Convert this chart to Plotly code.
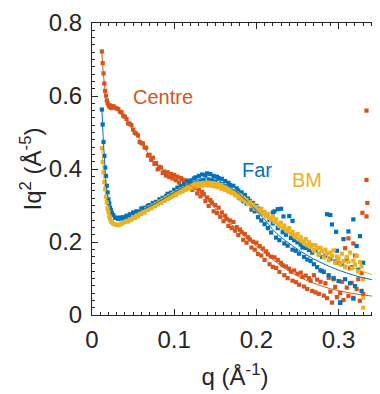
import plotly.graph_objects as go

# ---------------- data ----------------
q = [0.012, 0.013, 0.014, 0.015, 0.016, 0.017, 0.018, 0.019, 0.020, 0.021,
     0.022, 0.023, 0.024, 0.026, 0.028, 0.030, 0.032, 0.034, 0.036, 0.038,
     0.040,
     0.042, 0.044, 0.046, 0.048, 0.050, 0.052, 0.054, 0.056, 0.058, 0.060,
     0.062, 0.064, 0.066, 0.068, 0.070, 0.072, 0.074, 0.076, 0.078, 0.080,
     0.082, 0.084, 0.086, 0.088, 0.090, 0.092, 0.094, 0.096, 0.098, 0.100,
     0.102, 0.104, 0.106, 0.108, 0.110, 0.112, 0.114, 0.116, 0.118, 0.120,
     0.122, 0.124, 0.126, 0.128, 0.130, 0.132, 0.134, 0.136, 0.138, 0.140,
     0.142, 0.144, 0.146, 0.148, 0.150, 0.152, 0.154, 0.156, 0.158, 0.160,
     0.162, 0.164, 0.166, 0.168, 0.170, 0.172, 0.174, 0.176, 0.178, 0.180,
     0.182, 0.184, 0.186, 0.188, 0.190, 0.192, 0.194, 0.196, 0.198, 0.200,
     0.202, 0.204, 0.206, 0.208, 0.210, 0.212, 0.214, 0.216, 0.218, 0.220,
     0.222, 0.224, 0.226, 0.228, 0.230, 0.232, 0.234, 0.236, 0.238, 0.240,
     0.242, 0.244, 0.246, 0.248, 0.250, 0.252, 0.254, 0.256, 0.258, 0.260,
     0.262, 0.264, 0.266, 0.268, 0.270, 0.272, 0.274, 0.276, 0.278, 0.280,
     0.282, 0.284, 0.286, 0.288, 0.290, 0.292, 0.294, 0.296, 0.298, 0.300,
     0.302, 0.304, 0.306, 0.308, 0.310, 0.312, 0.314, 0.316, 0.318, 0.320,
     0.322, 0.324, 0.326, 0.328, 0.330]

centre = [0.722, 0.690, 0.662, 0.634, 0.614, 0.601, 0.588, 0.581, 0.575, 0.571,
          0.574, 0.567, 0.570, 0.572, 0.568, 0.566, 0.564, 0.557, 0.555, 0.546,
          0.543,
          0.537, 0.525, 0.524, 0.520, 0.508, 0.499, 0.497, 0.492, 0.474, 0.471,
          0.470, 0.459, 0.458, 0.437, 0.439, 0.425, 0.431, 0.414, 0.416, 0.399,
          0.406, 0.404, 0.389, 0.393, 0.382, 0.391, 0.378, 0.386, 0.374, 0.384,
          0.369, 0.379, 0.363, 0.375, 0.371, 0.357, 0.369, 0.352, 0.364, 0.361,
          0.343, 0.355, 0.348, 0.333, 0.344, 0.325, 0.337, 0.331, 0.312, 0.322,
          0.299, 0.315, 0.308, 0.284, 0.301, 0.279, 0.294, 0.269, 0.281, 0.257,
          0.272, 0.263, 0.244, 0.259, 0.238, 0.255, 0.231, 0.241, 0.219, 0.234,
          0.227, 0.206, 0.222, 0.198, 0.213, 0.207, 0.185, 0.201, 0.179, 0.198,
          0.167, 0.189, 0.163, 0.182, 0.151, 0.174, 0.166, 0.139, 0.160, 0.132,
          0.158, 0.129, 0.151, 0.118, 0.143, 0.136, 0.109, 0.133, 0.101, 0.127,
          0.119, 0.094, 0.122, 0.090, 0.113, 0.083, 0.116, 0.104, 0.078, 0.108,
          0.071, 0.101, 0.094, 0.066, 0.109, 0.062, 0.097, 0.058, 0.091, 0.121,
          0.053, 0.087, 0.046, 0.102, 0.064, 0.034, 0.098, 0.077, 0.049, 0.143,
          0.060, 0.091, 0.041, 0.183, 0.075, 0.052, 0.128, 0.088, 0.047, 0.163,
          0.071, 0.098, 0.039, 0.115, 0.058]

far = [0.563, 0.522, 0.474, 0.436, 0.404, 0.381, 0.354, 0.336, 0.317, 0.306,
       0.294, 0.287, 0.280, 0.274, 0.267, 0.266, 0.263, 0.267, 0.264, 0.268,
       0.266,
       0.272, 0.268, 0.276, 0.274, 0.281, 0.275, 0.284, 0.279, 0.283, 0.292,
       0.286, 0.294, 0.288, 0.299, 0.301, 0.295, 0.307, 0.299, 0.310, 0.305,
       0.317, 0.311, 0.321, 0.314, 0.326, 0.332, 0.322, 0.335, 0.328, 0.343,
       0.331, 0.349, 0.338, 0.353, 0.342, 0.360, 0.349, 0.366, 0.352, 0.369,
       0.358, 0.374, 0.377, 0.362, 0.381, 0.366, 0.385, 0.369, 0.383, 0.388,
       0.370, 0.386, 0.367, 0.381, 0.364, 0.379, 0.375, 0.358, 0.373, 0.353,
       0.367, 0.349, 0.362, 0.356, 0.339, 0.354, 0.333, 0.347, 0.341, 0.320,
       0.336, 0.312, 0.329, 0.306, 0.319, 0.312, 0.289, 0.307, 0.284, 0.299,
       0.268, 0.291, 0.259, 0.281, 0.249, 0.274, 0.238, 0.261, 0.226, 0.251,
       0.284, 0.212, 0.238, 0.205, 0.291, 0.227, 0.196, 0.220, 0.190, 0.271,
       0.211, 0.179, 0.205, 0.176, 0.199, 0.168, 0.193, 0.185, 0.159, 0.184,
       0.152, 0.178, 0.148, 0.171, 0.139, 0.178, 0.131, 0.166, 0.122, 0.159,
       0.118, 0.163, 0.276, 0.109, 0.154, 0.248, 0.101, 0.147, 0.176, 0.093,
       0.035, 0.139, 0.208, 0.098, 0.152, 0.229, 0.087, 0.131, 0.262, 0.079,
       0.189, 0.124, 0.216, 0.066, 0.143]

bm = [0.457, 0.419, 0.391, 0.364, 0.345, 0.324, 0.309, 0.292, 0.282, 0.270,
      0.264, 0.257, 0.254, 0.250, 0.248, 0.247, 0.246, 0.248, 0.250, 0.253,
      0.255,
      0.258, 0.256, 0.262, 0.261, 0.268, 0.266, 0.273, 0.270, 0.279, 0.277,
      0.284, 0.281, 0.290, 0.288, 0.295, 0.292, 0.300, 0.298, 0.305, 0.303,
      0.311, 0.307, 0.316, 0.314, 0.321, 0.318, 0.326, 0.323, 0.331, 0.334,
      0.329, 0.339, 0.335, 0.344, 0.338, 0.348, 0.343, 0.352, 0.346, 0.355,
      0.349, 0.358, 0.351, 0.360, 0.354, 0.361, 0.355, 0.362, 0.356, 0.363,
      0.355, 0.362, 0.354, 0.361, 0.352, 0.359, 0.350, 0.356, 0.346, 0.352,
      0.343, 0.348, 0.338, 0.344, 0.334, 0.339, 0.328, 0.333, 0.322, 0.328,
      0.316, 0.321, 0.310, 0.315, 0.304, 0.309, 0.298, 0.303, 0.291, 0.296,
      0.287, 0.281, 0.290, 0.276, 0.282, 0.270, 0.277, 0.266, 0.261, 0.270,
      0.255, 0.262, 0.250, 0.244, 0.253, 0.238, 0.245, 0.234, 0.229, 0.238,
      0.222, 0.228, 0.218, 0.213, 0.222, 0.207, 0.213, 0.202, 0.198, 0.208,
      0.191, 0.199, 0.186, 0.192, 0.176, 0.191, 0.183, 0.166, 0.184, 0.175,
      0.158, 0.179, 0.169, 0.150, 0.171, 0.162, 0.177, 0.143, 0.160, 0.155,
      0.139, 0.168, 0.148, 0.131, 0.159, 0.146, 0.171, 0.128, 0.149, 0.138,
      0.162, 0.119, 0.145, 0.133, 0.098]

# isolated points at the end of the q range
centre_extra_q = [0.329, 0.334, 0.334, 0.335, 0.334, 0.318, 0.312]
centre_extra = [0.280, 0.560, 0.370, 0.307, 0.270, 0.196, 0.210]
far_extra_q = [0.220, 0.226, 0.233, 0.290, 0.302, 0.318, 0.244, 0.297]
far_extra = [0.281, 0.290, 0.270, 0.274, 0.033, 0.045, 0.258, 0.228]
bm_extra_q = [0.330, 0.330]
bm_extra = [0.020, 0.047]

# fitted curves
q_fit = [0.012, 0.015, 0.02, 0.03, 0.04, 0.05, 0.06, 0.07, 0.08, 0.09,
         0.10, 0.11, 0.12, 0.13, 0.14, 0.15, 0.16, 0.17, 0.18, 0.19,
         0.20, 0.21, 0.22, 0.23, 0.24, 0.25, 0.26, 0.27, 0.28, 0.29,
         0.30, 0.31, 0.32, 0.33, 0.34, 0.35]
centre_fit = [0.72, 0.635, 0.575, 0.567, 0.541, 0.51, 0.474, 0.436, 0.406, 0.387,
              0.377, 0.368, 0.355, 0.338, 0.316, 0.292, 0.268, 0.247, 0.227, 0.207,
              0.189, 0.170, 0.152, 0.135, 0.120, 0.107, 0.096, 0.087, 0.079, 0.072,
              0.067, 0.062, 0.058, 0.055, 0.052, 0.050]
far_fit = [0.565, 0.435, 0.318, 0.266, 0.268, 0.277, 0.287, 0.297, 0.309, 0.322,
           0.336, 0.349, 0.362, 0.372, 0.376, 0.372, 0.361, 0.347, 0.330, 0.309,
           0.286, 0.262, 0.234, 0.213, 0.196, 0.180, 0.166, 0.153, 0.142, 0.132,
           0.123, 0.115, 0.108, 0.102, 0.097, 0.093]
bm_fit = [0.455, 0.365, 0.281, 0.247, 0.254, 0.265, 0.279, 0.292, 0.305, 0.318,
          0.331, 0.342, 0.351, 0.357, 0.359, 0.356, 0.348, 0.337, 0.323, 0.308,
          0.291, 0.275, 0.259, 0.243, 0.227, 0.212, 0.197, 0.183, 0.170, 0.157,
          0.146, 0.136, 0.127, 0.119, 0.111, 0.104]

labels = ["Centre", "Far", "BM"]
colors = ["#D95319", "#0072BD", "#EDB120"]
label_pos = [(0.0866, 0.596), (0.201, 0.396), (0.262, 0.370)]

x_ticks = [0, 0.1, 0.2, 0.3]
x_ticktext = ["0", "0.1", "0.2", "0.3"]
y_ticks = [0, 0.2, 0.4, 0.6, 0.8]
y_ticktext = ["0", "0.2", "0.4", "0.6", "0.8"]

# ---------------- figure ----------------
FONT = "Arial, Liberation Sans, sans-serif"
INK = "#262626"
fig = go.Figure()

series = [
    (q + centre_extra_q, centre + centre_extra, centre_fit),
    (q + far_extra_q, far + far_extra, far_fit),
    (q + bm_extra_q, bm + bm_extra, bm_fit),
]
for (xs, ys, _), name, col in zip(series, labels, colors):
    fig.add_trace(go.Scatter(x=xs, y=ys, mode="markers", name=name,
                             marker=dict(color=col, size=4.2, symbol="square",
                                         line=dict(width=0)),
                             showlegend=False))
for (_, _, yf), name, col in zip(series, labels, colors):
    fig.add_trace(go.Scatter(x=q_fit, y=yf, mode="lines", name=name + " fit",
                             line=dict(color=col, width=1, shape="spline"),
                             showlegend=False))

for name, col, (xa, ya) in zip(labels, colors, label_pos):
    fig.add_annotation(x=xa, y=ya, text=name, showarrow=False,
                       font=dict(family=FONT, size=20, color=col))

axis_common = dict(
    showline=True, linecolor=INK, linewidth=1, mirror="allticks",
    ticks="inside", ticklen=6, tickwidth=1, tickcolor=INK,
    showgrid=False, zeroline=False, automargin=False,
    tickfont=dict(family=FONT, size=24, color=INK),
    minor=dict(ticks="inside", ticklen=3, tickwidth=1, tickcolor=INK, showgrid=False),
)

fig.update_xaxes(range=[0, 0.348], tickvals=x_ticks, ticktext=x_ticktext,
                 minor_dtick=0.01, ticklabelstandoff=3,
                 title=dict(text="q (Å<sup>-1</sup>)", standoff=16,
                            font=dict(family=FONT, size=24, color=INK)),
                 **axis_common)
fig.update_yaxes(range=[0, 0.8], tickvals=y_ticks, ticktext=y_ticktext,
                 minor_dtick=0.02, ticklabelstandoff=4,
                 title=dict(text="Iq<sup>2</sup> (Å<sup>-5</sup>)", standoff=0,
                            font=dict(family=FONT, size=24, color=INK)),
                 **axis_common)

# the page body adds an 8 px offset, so the figure is 8 px smaller and shifted
fig.update_layout(width=372, height=386,
                  margin=dict(l=84, r=2, t=15, b=79),
                  plot_bgcolor="white", paper_bgcolor="white")

fig.write_html("out.html")
